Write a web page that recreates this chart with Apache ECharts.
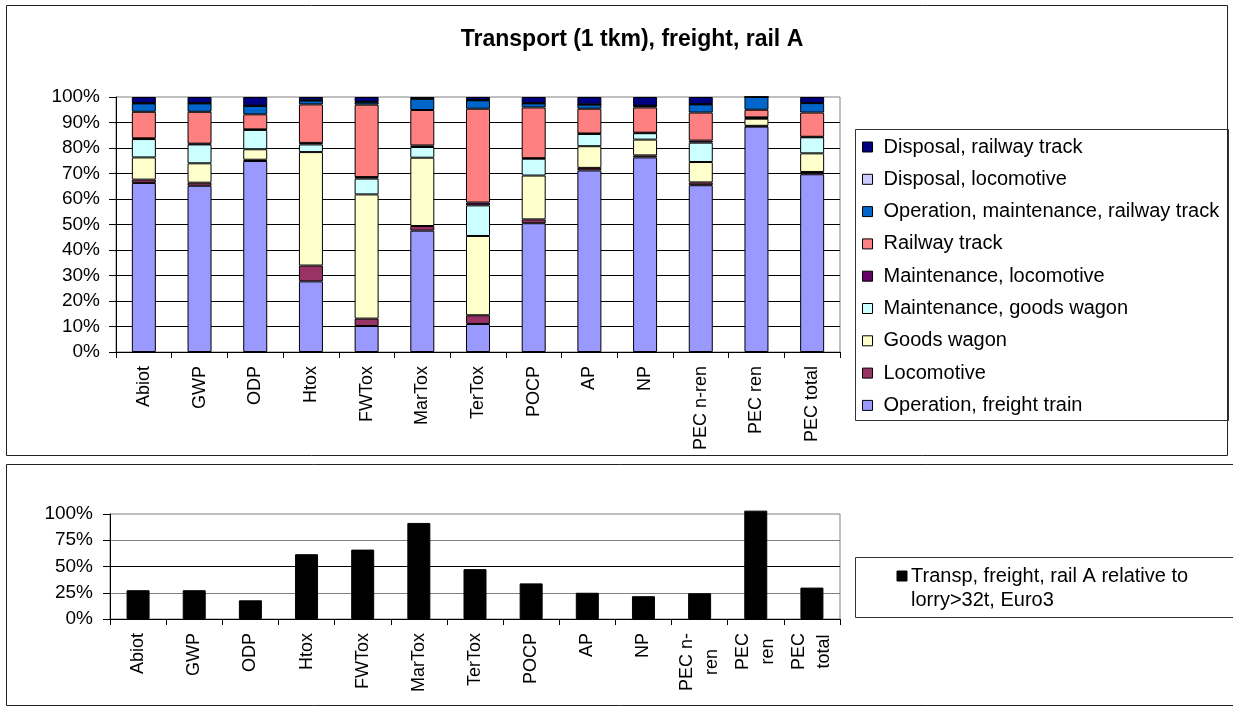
<!DOCTYPE html>
<html>
<head>
<meta charset="utf-8">
<script src="https://cdn.jsdelivr.net/npm/echarts@6/dist/echarts.min.js"></script>
<style>
  html, body { margin: 0; padding: 0; background: #fff; }
  #chart { width: 1233px; height: 709px; }
</style>
</head>
<body>
<div id="chart"></div>
<script>
// Impact categories (x axis of both panels)
const categories = ['Abiot', 'GWP', 'ODP', 'Htox', 'FWTox', 'MarTox', 'TerTox', 'POCP', 'AP', 'NP', 'PEC n-ren', 'PEC ren', 'PEC total'];
const lowerLabels = ['Abiot', 'GWP', 'ODP', 'Htox', 'FWTox', 'MarTox', 'TerTox', 'POCP', 'AP', 'NP', 'PEC n-\nren', 'PEC\nren', 'PEC\ntotal'];

// Contribution shares per process (% of each category), bottom of stack first
const opFreightTrain       = [66.3, 65.2, 74.9, 27.7, 10.2, 47.6, 11.0, 50.5, 71.2, 76.3, 65.4, 88.4, 69.7];
const locomotive           = [1.3, 1.2, 0.5, 6.2, 2.9, 1.8, 3.4, 1.5, 1.0, 0.8, 1.1, 0.3, 0.9];
const goodsWagon           = [8.7, 7.6, 4.1, 44.5, 48.7, 26.8, 31.1, 17.2, 8.5, 6.2, 8.0, 2.8, 7.3];
const maintGoodsWagon      = [7.2, 7.4, 7.6, 3.0, 6.2, 4.2, 12.0, 6.6, 4.8, 2.5, 7.6, 0.3, 6.3];
const maintLocomotive      = [0.3, 0.3, 0.2, 0.6, 0.6, 0.6, 1.1, 0.2, 0.2, 0.2, 0.8, 0.2, 0.2];
const railwayTrack         = [10.4, 12.5, 5.9, 15.1, 28.4, 13.9, 36.8, 19.9, 9.7, 9.9, 11.0, 3.0, 9.5];
const opMaintRailwayTrack  = [3.3, 3.3, 3.3, 1.5, 0.9, 4.4, 3.3, 1.6, 1.6, 0.6, 3.2, 5.0, 3.7];
const disposalLocomotive   = [0.1, 0.1, 0.1, 0.1, 0.2, 0.1, 0.1, 0.1, 0.1, 0.1, 0.1, 0.0, 0.1];
const disposalRailwayTrack = [2.4, 2.4, 3.4, 1.3, 1.9, 0.6, 1.2, 2.4, 2.9, 3.4, 2.8, 0.0, 2.3];

// Rail A impact relative to lorry >32t, Euro3 (%)
const relativeToLorry = [27.4, 27.4, 17.8, 61.7, 66.1, 91.5, 47.5, 33.9, 25.0, 21.7, 24.5, 103.2, 29.9];

const upperTicks = { min: 0, max: 100, interval: 10 };
const lowerTicks = { min: 0, max: 100, interval: 25 };

const titleText = 'Transport (1 tkm), freight, rail A';
const relativeName = 'Transp, freight, rail A relative to lorry>32t, Euro3';
const relativeLegendLines = 'Transp, freight, rail A relative to\nlorry>32t, Euro3';

const FONT = "'Liberation Sans', Arial, sans-serif";

const stackDefs = [
  { name: 'Operation, freight train', data: opFreightTrain, color: '#9999FF' },
  { name: 'Locomotive', data: locomotive, color: '#993366' },
  { name: 'Goods wagon', data: goodsWagon, color: '#FFFFCC' },
  { name: 'Maintenance, goods wagon', data: maintGoodsWagon, color: '#CCFFFF' },
  { name: 'Maintenance, locomotive', data: maintLocomotive, color: '#660066' },
  { name: 'Railway track', data: railwayTrack, color: '#FF8080' },
  { name: 'Operation, maintenance, railway track', data: opMaintRailwayTrack, color: '#0066CC' },
  { name: 'Disposal, locomotive', data: disposalLocomotive, color: '#CCCCFF' },
  { name: 'Disposal, railway track', data: disposalRailwayTrack, color: '#000080' }
];

const stackSeries = stackDefs.map(d => ({
  name: d.name,
  type: 'bar',
  stack: 'share',
  xAxisIndex: 0,
  yAxisIndex: 0,
  barWidth: 24,
  data: d.data,
  itemStyle: { color: d.color, borderColor: '#000', borderWidth: 1 },
  emphasis: { disabled: true },
  animation: false
}));

const relativeSeries = {
  name: relativeName,
  type: 'bar',
  xAxisIndex: 1,
  yAxisIndex: 1,
  barWidth: 23,
  clip: false,
  data: relativeToLorry,
  itemStyle: { color: '#000', borderColor: '#000', borderWidth: 1 },
  emphasis: { disabled: true },
  animation: false
};

const chart = echarts.init(document.getElementById('chart'), null, { renderer: 'canvas' });

chart.setOption({
  animation: false,
  backgroundColor: '#fff',
  textStyle: { fontFamily: FONT },
  grid: [
    { left: 116, right: 393, top: 97, bottom: 357, show: true, borderColor: '#808080', borderWidth: 1, containLabel: false },
    { left: 110, right: 393, top: 514, bottom: 90, show: true, borderColor: '#808080', borderWidth: 1, containLabel: false }
  ],
  xAxis: [
    {
      type: 'category', gridIndex: 0, data: categories, boundaryGap: true,
      axisLine: { lineStyle: { color: '#000', width: 1 } },
      axisTick: { show: true, length: 6, lineStyle: { color: '#000' } },
      axisLabel: { rotate: 90, margin: 14, fontSize: 18, color: '#000', fontFamily: FONT, interval: 0 }
    },
    {
      type: 'category', gridIndex: 1, data: lowerLabels, boundaryGap: true,
      axisLine: { lineStyle: { color: '#000', width: 1 } },
      axisTick: { show: true, length: 6, lineStyle: { color: '#000' } },
      axisLabel: {
        rotate: 90, margin: 14, interval: 0,
        formatter: v => v.split('\n').map(s => '{c|' + s + '}').join('\n'),
        rich: { c: { fontSize: 18, lineHeight: 25, color: '#000', fontFamily: FONT, align: 'center' } }
      }
    }
  ],
  yAxis: [
    {
      type: 'value', gridIndex: 0, min: upperTicks.min, max: upperTicks.max, interval: upperTicks.interval,
      axisLine: { show: true, lineStyle: { color: '#000' } },
      axisTick: { show: true, length: 7, lineStyle: { color: '#000' } },
      axisLabel: { formatter: '{value}%', fontSize: 19, color: '#000', margin: 16, fontFamily: FONT },
      splitLine: { show: true, showMaxLine: false, lineStyle: { color: '#000', width: 1 } }
    },
    {
      type: 'value', gridIndex: 1, min: lowerTicks.min, max: lowerTicks.max, interval: lowerTicks.interval,
      axisLine: { show: true, lineStyle: { color: '#000' } },
      axisTick: { show: true, length: 7, lineStyle: { color: '#000' } },
      axisLabel: { formatter: '{value}%', fontSize: 19, color: '#000', margin: 17, fontFamily: FONT },
      splitLine: { show: true, showMaxLine: false, lineStyle: { color: ['#000', '#808080', '#000', '#808080'], width: 1 } }
    }
  ],
  legend: {
    orient: 'vertical',
    left: 862,
    top: 136,
    padding: 0,
    itemWidth: 10,
    itemHeight: 10,
    itemGap: 10.3,
    icon: 'rect',
    selectedMode: false,
    data: stackDefs.map(d => d.name).reverse(),
    itemStyle: { borderColor: '#000', borderWidth: 1 },
    textStyle: { fontSize: 20, lineHeight: 22, color: '#000', fontFamily: FONT, padding: [0, 0, 0, 6] }
  },
  graphic: [
    // outer frames of the two panels
    { type: 'rect', silent: true, z: -10, shape: { x: 6.5, y: 5.5, width: 1221, height: 450 }, style: { fill: 'none', stroke: '#222', lineWidth: 1 } },
    { type: 'rect', silent: true, z: -10, shape: { x: 6.5, y: 464.5, width: 1240, height: 241 }, style: { fill: 'none', stroke: '#222', lineWidth: 1 } },
    // chart title
    { type: 'text', silent: true, x: 632, y: 40, style: { text: titleText, font: 'bold 23px ' + FONT, fill: '#000', align: 'center', verticalAlign: 'middle' } },
    // legend box of the stacked panel
    { type: 'rect', silent: true, shape: { x: 855.5, y: 129.5, width: 373, height: 291 }, style: { fill: 'none', stroke: '#333', lineWidth: 1 } },
    // legend of the relative panel
    { type: 'rect', silent: true, shape: { x: 855.5, y: 557.5, width: 400, height: 60 }, style: { fill: '#fff', stroke: '#333', lineWidth: 1 } },
    { type: 'rect', silent: true, shape: { x: 897, y: 571, width: 10, height: 10 }, style: { fill: '#000', stroke: '#000', lineWidth: 1 } },
    { type: 'text', silent: true, x: 911, y: 564, style: { text: relativeLegendLines, font: '20px ' + FONT, lineHeight: 24, fill: '#000', align: 'left', verticalAlign: 'top' } }
  ],
  series: [...stackSeries, relativeSeries]
});
</script>
</body>
</html>
